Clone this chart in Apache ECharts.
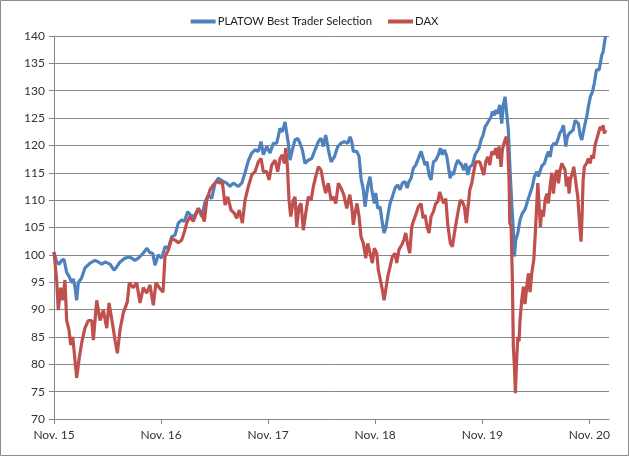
<!DOCTYPE html>
<html>
<head>
<meta charset="utf-8">
<script src="https://cdn.jsdelivr.net/npm/echarts@6/dist/echarts.min.js"></script>
<style>
html,body{margin:0;padding:0;background:#fff;}
#chart{width:629px;height:456px;}
</style>
</head>
<body>
<div id="chart"></div>
<script>
// x values: months since Nov. 2015
const tickLabels = ['Nov. 15', 'Nov. 16', 'Nov. 17', 'Nov. 18', 'Nov. 19', 'Nov. 20'];
const tickMonths = [0, 12, 24, 36, 48, 60];
const seriesNames = ['PLATOW Best Trader Selection', 'DAX'];

const platowMonths = [0,0.30,0.59,0.86,1.12,1.42,1.71,1.98,2.16,2.35,2.54,2.72,3.10,3.47,4.04,4.60,4.97,5.35,5.72,6.28,6.73,7.03,7.40,7.96,8.52,9.08,9.45,10.01,10.39,10.76,11.06,11.32,11.69,12.07,12.44,12.81,13.19,13.56,13.93,14.31,14.61,14.99,15.43,15.80,16.17,16.56,16.93,17.30,17.68,18.05,18.42,18.98,19.36,19.73,20.10,20.66,21.04,21.41,21.78,22.16,22.53,22.90,23.20,23.46,23.84,24.21,24.58,24.96,25.33,25.59,25.89,26.08,26.26,26.45,26.71,27.01,27.32,27.57,27.83,28.13,28.50,28.89,29.26,29.63,29.93,30.19,30.45,30.75,31.05,31.42,31.80,32.17,32.54,32.92,33.18,33.37,33.55,33.93,34.19,34.41,34.67,34.86,35.16,35.42,35.61,35.90,36.06,36.28,36.54,36.80,36.99,37.18,37.40,37.66,37.92,38.22,38.53,38.78,39.04,39.34,39.57,39.79,40.02,40.27,40.54,40.83,41.14,41.36,41.59,41.81,42.03,42.26,42.52,42.78,43.08,43.30,43.52,43.75,44.02,44.20,44.39,44.58,44.76,45.03,45.25,45.47,45.70,45.92,46.15,46.37,46.60,46.89,47.19,47.41,47.64,47.86,48.09,48.31,48.54,48.76,48.98,49.13,49.35,49.51,49.73,49.96,50.18,50.36,50.55,50.74,50.92,51.11,51.30,51.48,51.60,51.75,51.98,52.23,52.49,52.79,53.10,53.35,53.61,53.84,54.11,54.29,54.51,54.73,54.96,55.18,55.41,55.60,55.79,56.01,56.24,56.46,56.68,56.91,57.09,57.20,57.36,57.54,57.73,57.95,58.18,58.40,58.62,58.77,58.96,59.15,59.33,59.52,59.71,59.89,60.11,60.34,60.56,60.79,60.94,61.09,61.23,61.39,61.54,61.68,61.82];
const platowValues = [100.5,98.7,98.3,99.0,99.2,96.8,96.0,94.9,95.6,94.1,91.7,94.9,95.8,97.6,98.5,99.0,98.7,98.3,98.7,98.3,97.2,97.8,98.7,99.4,99.6,99.0,99.4,100.3,101.2,100.4,100.3,98.1,100.0,99.4,101.5,101.2,103.3,103.6,105.8,106.4,106.1,107.9,107.0,107.3,108.5,107.0,109.7,110.9,110.3,113.1,114.0,113.4,113.1,112.5,113.1,112.5,113.1,115.0,117.2,118.6,119.2,118.9,120.7,118.3,119.8,118.6,120.4,120.4,123.1,122.5,124.3,124.0,120.4,117.3,119.2,121.0,121.3,120.4,119.2,116.7,117.3,117.6,119.2,120.7,121.3,119.8,121.9,119.2,117.0,117.9,119.8,120.4,120.7,120.4,121.6,120.7,118.9,118.9,118.0,114.0,111.9,108.8,112.5,114.3,111.9,109.4,111.3,108.5,108.8,105.8,104.0,104.9,107.0,109.4,110.6,112.2,112.8,111.9,113.1,113.4,112.2,113.4,114.0,115.8,116.4,117.6,118.9,118.6,116.4,117.0,114.6,113.7,117.0,117.3,118.3,119.5,118.3,119.2,118.0,116.1,114.0,115.2,114.6,116.4,117.3,117.6,116.4,115.5,116.7,114.6,116.1,116.4,118.3,118.9,119.5,121.0,121.9,123.4,124.0,124.6,125.2,126.2,125.5,126.5,125.8,127.4,124.0,127.4,128.9,129.2,122.8,115.5,109.4,104.5,99.7,102.7,104.0,106.4,107.6,108.3,110.0,111.2,112.5,114.3,115.2,114.3,115.5,116.4,116.7,117.9,118.9,117.9,119.8,120.4,120.1,121.0,122.2,122.8,123.7,122.2,119.8,121.6,122.2,121.9,122.8,124.6,124.9,124.0,121.9,121.0,122.5,124.0,125.3,127.1,128.9,129.8,131.4,133.8,134.1,133.8,135.0,136.5,137.1,138.7,140.0];

const daxMonths = [0,0.30,0.48,0.75,0.98,1.23,1.42,1.68,1.87,2.10,2.28,2.54,2.84,3.10,3.47,3.84,4.23,4.41,4.79,5.16,5.53,5.91,6.17,6.58,6.84,7.10,7.40,7.77,8.22,8.44,8.89,9.27,9.64,10.01,10.39,10.76,11.13,11.43,11.88,12.22,12.44,12.81,13.19,13.56,13.93,14.31,14.61,14.87,15.24,15.61,16.17,16.48,16.85,17.12,17.49,17.86,18.24,18.61,18.86,19.17,19.47,19.84,20.21,20.48,20.77,21.11,21.41,21.78,22.16,22.53,22.90,23.20,23.46,23.84,24.10,24.40,24.77,25.07,25.33,25.59,25.81,25.97,26.15,26.34,26.53,26.82,27.01,27.20,27.46,27.69,27.94,28.21,28.50,28.81,29.07,29.33,29.63,29.93,30.19,30.45,30.75,31.05,31.31,31.58,31.87,32.17,32.47,32.81,33.15,33.37,33.55,33.74,33.96,34.19,34.41,34.67,34.94,35.16,35.42,35.68,35.90,36.17,36.35,36.58,36.80,36.99,37.18,37.40,37.66,37.92,38.22,38.41,38.67,38.97,39.20,39.42,39.65,39.87,40.09,40.27,40.54,40.83,41.14,41.36,41.59,41.81,42.03,42.26,42.52,42.78,43.01,43.23,43.46,43.68,43.91,44.13,44.42,44.65,44.87,45.09,45.32,45.54,45.77,45.99,46.21,46.37,46.60,46.82,47.04,47.27,47.49,47.72,47.94,48.17,48.39,48.61,48.84,49.06,49.28,49.51,49.73,49.88,50.10,50.25,50.48,50.70,50.85,51.00,51.08,51.23,51.37,51.48,51.60,51.71,51.82,51.98,52.12,52.23,52.42,52.61,52.79,52.98,53.17,53.35,53.54,53.77,53.92,54.11,54.22,54.36,54.51,54.67,54.85,55.04,55.23,55.41,55.60,55.79,55.97,56.16,56.35,56.53,56.72,56.91,57.13,57.28,57.42,57.58,57.73,57.87,58.10,58.25,58.40,58.54,58.70,58.85,58.99,59.07,59.18,59.30,59.44,59.67,59.89,60.08,60.27,60.45,60.64,60.83,61.01,61.23,61.39,61.54,61.68,61.84];
const daxValues = [100.5,95.4,89.9,94.0,91.7,95.4,88.0,86.3,83.5,85.0,82.0,77.5,81.3,83.9,86.6,88.0,88.0,84.4,91.7,88.0,89.9,86.6,91.2,87.2,84.4,82.0,86.3,89.4,91.4,94.9,94.0,94.9,91.2,94.0,93.0,94.5,90.8,94.9,93.8,93.2,99.7,100.9,103.0,102.7,102.2,102.7,104.2,105.8,107.0,106.1,108.5,107.8,106.1,110.0,111.9,112.8,113.4,113.1,113.4,109.1,110.6,108.2,107.6,106.7,108.2,105.8,110.0,112.5,114.6,115.2,117.0,117.6,115.2,115.2,113.7,116.4,117.3,115.2,117.6,118.3,116.7,119.5,116.4,110.0,107.0,110.0,110.6,105.1,108.8,109.4,104.5,107.6,110.6,110.0,112.5,114.3,116.1,115.5,113.1,111.3,113.1,110.0,110.6,109.4,113.1,112.2,111.0,108.5,111.0,108.8,105.5,107.6,109.4,107.0,103.3,102.1,99.4,102.1,100.3,98.5,101.2,100.3,97.2,95.4,93.6,91.7,93.6,96.0,97.8,99.7,100.3,98.5,101.0,101.8,102.7,104.0,101.8,100.3,105.1,106.1,107.3,108.8,109.4,106.7,107.3,105.1,104.0,107.0,107.9,109.4,109.7,111.5,110.3,109.4,110.3,105.5,102.1,101.5,103.9,106.1,108.2,110.0,109.7,108.8,105.8,108.2,111.9,113.1,115.2,117.0,116.7,117.0,115.8,114.6,117.0,117.9,116.4,118.9,118.3,119.5,117.6,119.8,116.1,119.2,120.7,121.6,119.8,113.7,105.8,105.2,95.4,83.2,79.6,74.7,79.6,85.0,84.2,88.1,91.7,94.2,91.0,94.2,96.6,93.2,96.6,99.1,103.3,109.4,113.1,109.4,105.1,108.2,107.0,110.0,111.2,109.4,112.5,115.0,111.2,114.3,115.5,113.1,115.5,116.7,117.0,115.5,112.5,114.3,111.2,113.7,115.0,116.1,114.3,112.5,110.6,107.0,103.9,102.4,107.0,113.7,116.1,116.7,117.6,116.7,118.2,117.6,120.1,120.4,122.2,123.4,122.8,123.7,122.2,122.8];

function zip(xs, ys) { return xs.map((x, i) => [x, ys[i]]); }

const chart = echarts.init(document.getElementById('chart'), null, {renderer: 'canvas'});
const fontFamily = 'Lato, "Open Sans", sans-serif';
chart.setOption({
  animation: false,
  backgroundColor: '#ffffff',
  graphic: [{
    type: 'rect',
    shape: {x: 0.5, y: 0.5, width: 628, height: 455},
    style: {fill: 'none', stroke: '#8c8c8c', lineWidth: 1},
    silent: true
  }],
  legend: {
    top: 11,
    left: 'center',
    icon: 'rect',
    itemWidth: 25,
    itemHeight: 4,
    itemGap: 16,
    textStyle: {fontFamily: fontFamily, fontSize: 11.3, color: '#222', padding: [0, 0, 0, -3]},
    data: seriesNames
  },
  grid: {left: 54, right: 20, top: 36, bottom: 37, containLabel: false},
  xAxis: {
    type: 'value',
    min: 0,
    max: 62.2,
    interval: 12,
    axisLine: {show: true, lineStyle: {color: '#868686', width: 1}},
    axisTick: {show: true, length: 5, lineStyle: {color: '#868686'}, customValues: tickMonths},
    axisLabel: {
      customValues: tickMonths,
      formatter: v => tickLabels[tickMonths.indexOf(Math.round(v))] || '',
      margin: 10,
      fontFamily: fontFamily,
      fontSize: 12,
      color: '#333'
    },
    splitLine: {show: false}
  },
  yAxis: {
    type: 'value',
    min: 70,
    max: 140,
    interval: 5,
    axisLine: {show: true, lineStyle: {color: '#868686', width: 1}},
    axisTick: {show: true, length: 5, lineStyle: {color: '#868686'}},
    axisLabel: {margin: 9, fontFamily: fontFamily, fontSize: 12, color: '#333'},
    splitLine: {show: true, lineStyle: {color: '#868686', width: 1}}
  },
  series: [
    {
      name: seriesNames[0],
      type: 'line',
      data: zip(platowMonths, platowValues),
      showSymbol: false,
      lineStyle: {color: '#4F81BD', width: 3.2},
      itemStyle: {color: '#4F81BD'},
      z: 2
    },
    {
      name: seriesNames[1],
      type: 'line',
      data: zip(daxMonths, daxValues),
      showSymbol: false,
      lineStyle: {color: '#C0504D', width: 3.2},
      itemStyle: {color: '#C0504D'},
      z: 3
    }
  ]
});
</script>
</body>
</html>
